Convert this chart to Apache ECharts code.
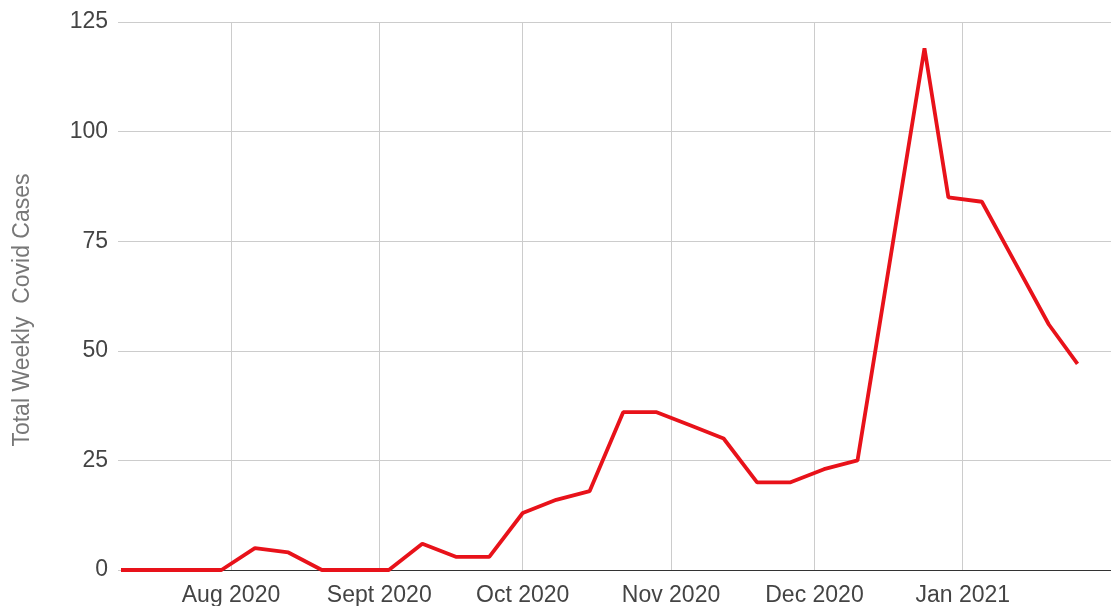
<!DOCTYPE html>
<html>
<head>
<meta charset="utf-8">
<script src="https://cdn.jsdelivr.net/npm/echarts@6/dist/echarts.min.js"></script>
<style>
html,body{margin:0;padding:0;background:#fff;}
#chart{width:1111px;height:606px;}
</style>
</head>
<body>
<div id="chart"></div>
<script>
const weekDates = ['2020-07-09','2020-07-16','2020-07-23','2020-07-30','2020-08-06','2020-08-13','2020-08-20','2020-08-27','2020-09-03','2020-09-10','2020-09-17','2020-09-24','2020-10-01','2020-10-08','2020-10-15','2020-10-22','2020-10-29','2020-11-05','2020-11-12','2020-11-19','2020-11-26','2020-12-03','2020-12-10','2020-12-17','2020-12-24','2020-12-29','2021-01-05','2021-01-12','2021-01-19','2021-01-25'];
const weeklyCases = [0,0,0,0,5,4,0,0,0,6,3,3,13,16,18,36,36,33,30,20,20,23,25,72,119,85,84,70,56,47];
const monthNames = ['Jan','Feb','Mar','Apr','May','Jun','Jul','Aug','Sept','Oct','Nov','Dec'];
const yTicks = [0,25,50,75,100,125];
const yTitle = 'Total Weekly  Covid Cases';
const xMin = '2020-07-09';
const xMax = '2021-02-01';

const font = 'Arial, "Liberation Sans", sans-serif';
const maxTime = new Date(xMax).getTime();
const chart = echarts.init(document.getElementById('chart'), null, {renderer:'canvas'});
chart.setOption({
  animation:false,
  backgroundColor:'#fff',
  grid:{left:121,right:0,top:22,bottom:36,containLabel:false,outerBoundsMode:'none'},
  xAxis:{
    type:'time',
    min:xMin,
    max:xMax,
    minInterval:28*86400000,
    axisLine:{show:true,lineStyle:{color:'#333',width:1}},
    axisTick:{show:false},
    splitLine:{show:true,showMinLine:false,showMaxLine:false,lineStyle:{color:'#cccccc',width:1}},
    axisLabel:{
      fontFamily:font,fontSize:23,color:'#444',margin:14,
      showMinLabel:false,showMaxLabel:false,
      formatter:function(v){ if(v>=maxTime-86400000) return ''; const d=new Date(v);return monthNames[d.getMonth()]+' '+d.getFullYear();}
    }
  },
  yAxis:{
    type:'value',min:yTicks[0],max:yTicks[yTicks.length-1],interval:25,
    name:yTitle,nameLocation:'middle',nameGap:87,
    nameTextStyle:{fontFamily:font,fontSize:23,color:'#777',padding:[0,28,0,0]},
    axisLine:{show:false},
    axisTick:{show:true,length:3,lineStyle:{color:'#cccccc'}},
    splitLine:{show:true,lineStyle:{color:'#cccccc',width:1}},
    axisLabel:{fontFamily:font,fontSize:23,color:'#444',margin:13}
  },
  series:[{
    type:'line',
    data:weekDates.map((d,i)=>[d,weeklyCases[i]]),
    showSymbol:false,
    lineStyle:{color:'#e8121a',width:3.8},
    itemStyle:{color:'#e8121a'}
  }]
});
</script>
</body>
</html>
